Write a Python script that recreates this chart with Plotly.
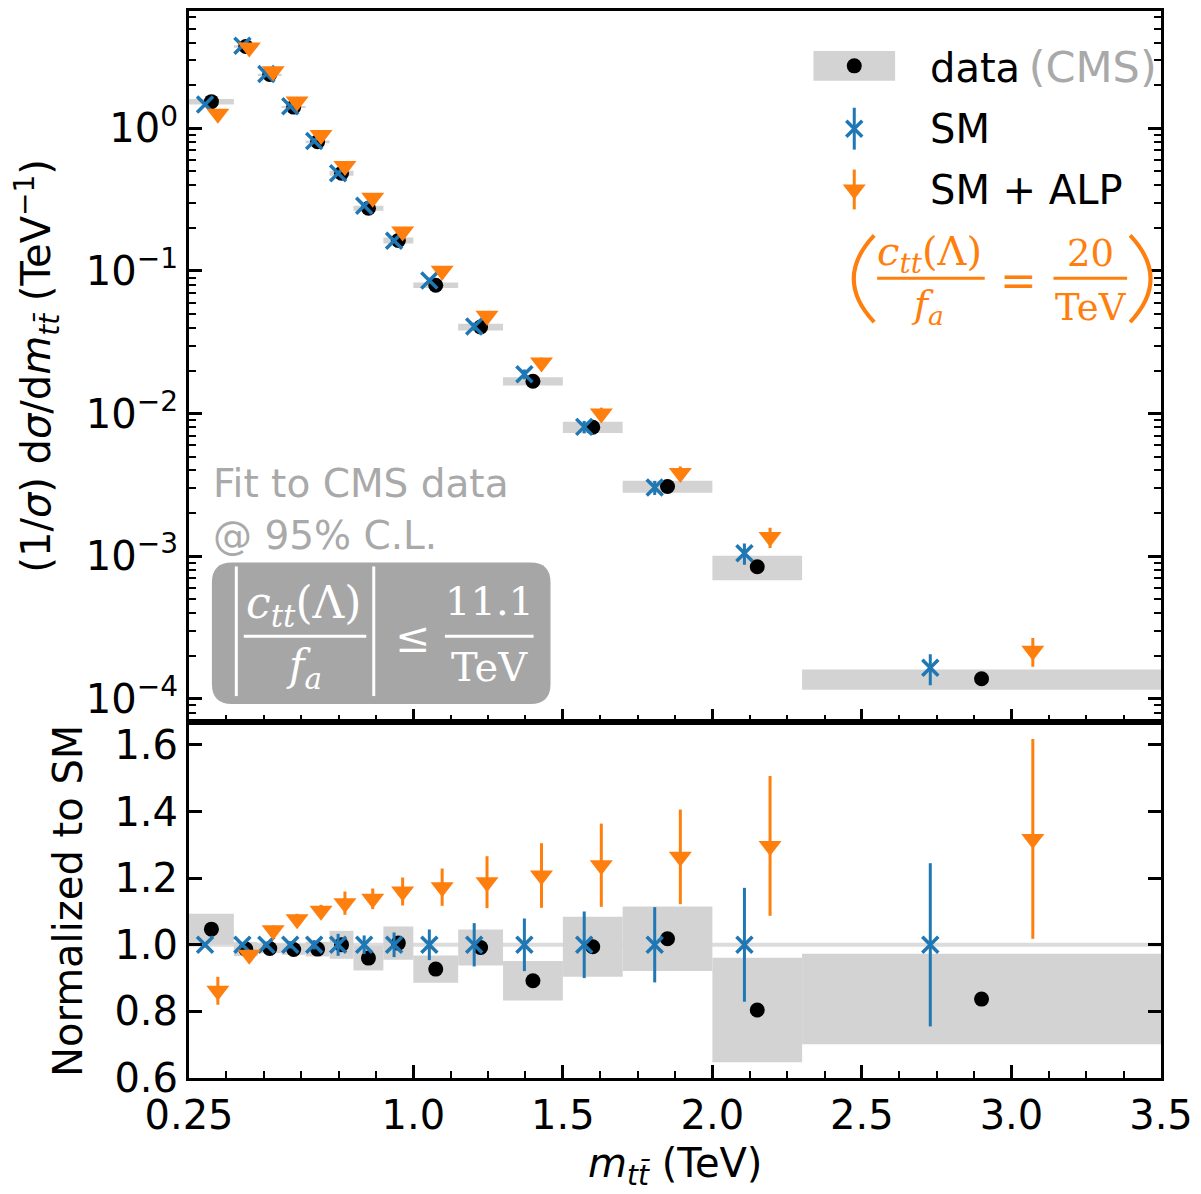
import numpy as np
import plotly.graph_objects as go

# ---------------- data ----------------
bin_edges = [0.25, 0.40, 0.48, 0.56, 0.64, 0.72, 0.80, 0.90, 1.00,
             1.15, 1.30, 1.50, 1.70, 2.00, 2.30, 3.50]          # TeV
sm_values = [1.47, 3.80, 2.41, 1.43, 0.816, 0.485, 0.287, 0.163, 0.0857,
             0.0408, 0.0189, 0.00807, 0.00303, 0.00105, 0.000165]  # TeV^-1
sm_ratio_err = [0.008, 0.008, 0.009, 0.011, 0.014, 0.033, 0.028, 0.037,
                0.046, 0.065, 0.079, 0.100, 0.113, 0.171, 0.245]
data_ratio = [1.047, 0.987, 0.989, 0.986, 0.987, 1.000, 0.960, 1.005,
              0.927, 0.992, 0.892, 0.994, 1.018, 0.804, 0.837]
data_ratio_err = [0.046, 0.021, 0.014, 0.016, 0.022, 0.042, 0.037, 0.050,
                  0.041, 0.054, 0.059, 0.090, 0.097, 0.157, 0.136]
alp_ratio = [0.862, 0.970, 1.044, 1.077, 1.102, 1.125, 1.138, 1.160,
             1.173, 1.188, 1.208, 1.239, 1.264, 1.297, 1.318]
alp_ratio_err = [0.042, 0.012, 0.014, 0.016, 0.018, 0.035, 0.031, 0.042,
                 0.056, 0.078, 0.097, 0.125, 0.142, 0.210, 0.300]

x_tick_vals = [0.25, 1.0, 1.5, 2.0, 2.5, 3.0, 3.5]
x_tick_text = ["0.25", "1.0", "1.5", "2.0", "2.5", "3.0", "3.5"]
y_top_tick_vals = [1e-4, 1e-3, 1e-2, 1e-1, 1.0]
y_top_tick_text = ["10<sup>−4</sup>", "10<sup>−3</sup>", "10<sup>−2</sup>",
                   "10<sup>−1</sup>", "10<sup>0</sup>"]
y_bot_tick_vals = [0.6, 0.8, 1.0, 1.2, 1.4, 1.6]
y_bot_tick_text = ["0.6", "0.8", "1.0", "1.2", "1.4", "1.6"]

# ---------------- derived quantities ----------------
edges = np.array(bin_edges)
lo, hi = edges[:-1], edges[1:]
centers = (lo + hi) / 2
widths = hi - lo
shift = widths / 7.0
x_sm = centers - shift
x_alp = centers + shift

sm = np.array(sm_values)
d_r = np.array(data_ratio)
d_re = np.array(data_ratio_err)
a_r = np.array(alp_ratio)
a_re = np.array(alp_ratio_err)
s_re = np.array(sm_ratio_err)

data_top = sm * d_r
data_err_top = sm * d_re
alp_top = sm * a_r
alp_err_top = sm * a_re
sm_err_top = sm * s_re
sm_norm = sm / sm

BLUE = "#1f77b4"
ORANGE = "#ff7f0e"
LGREY = "#d3d3d3"
FONT = "DejaVu Sans"
SERIF = "DejaVu Serif"

SM_MARKER = dict(symbol="x-thin", size=16, color=BLUE, line=dict(width=3.5, color=BLUE))
ALP_MARKER = dict(symbol="triangle-down", size=20, color=ORANGE)
DATA_MARKER = dict(symbol="circle", size=15, color="black")

# ---------------- geometry helpers (pixel -> paper) ----------------
L, R, T, B = 189, 36, 8, 116
W, H = 1201, 1194
PW, PH = W - L - R, H - T - B


def X(px):
    return (px - L) / PW


def Y(py):
    return (H - B - py) / PH


fig = go.Figure()

# ---------------- top panel ----------------
fig.add_trace(go.Bar(x=centers, y=2 * data_err_top, base=data_top - data_err_top,
                     width=widths, marker=dict(color=LGREY, line=dict(width=0)),
                     xaxis="x", yaxis="y", showlegend=False, hoverinfo="skip"))
fig.add_trace(go.Scatter(x=centers, y=data_top, mode="markers", marker=DATA_MARKER,
                         xaxis="x", yaxis="y", showlegend=False))
fig.add_trace(go.Scatter(x=x_sm, y=sm, mode="markers", marker=SM_MARKER,
                         error_y=dict(type="data", array=sm_err_top, color=BLUE,
                                      thickness=3, width=0),
                         xaxis="x", yaxis="y", showlegend=False))
fig.add_trace(go.Scatter(x=x_alp, y=alp_top, mode="markers", marker=ALP_MARKER,
                         error_y=dict(type="data", array=alp_err_top, color=ORANGE,
                                      thickness=3, width=0),
                         xaxis="x", yaxis="y", showlegend=False))

# ---------------- bottom panel ----------------
fig.add_trace(go.Bar(x=centers, y=2 * d_re, base=d_r - d_re, width=widths,
                     marker=dict(color=LGREY, line=dict(width=0)),
                     xaxis="x2", yaxis="y2", showlegend=False, hoverinfo="skip"))
fig.add_trace(go.Scatter(x=centers, y=data_top / sm, mode="markers", marker=DATA_MARKER,
                         xaxis="x2", yaxis="y2", showlegend=False))
fig.add_trace(go.Scatter(x=x_sm, y=sm_norm, mode="markers", marker=SM_MARKER,
                         error_y=dict(type="data", array=s_re, color=BLUE,
                                      thickness=3, width=0),
                         xaxis="x2", yaxis="y2", showlegend=False))
fig.add_trace(go.Scatter(x=x_alp, y=alp_top / sm, mode="markers", marker=ALP_MARKER,
                         error_y=dict(type="data", array=a_re, color=ORANGE,
                                      thickness=3, width=0),
                         xaxis="x2", yaxis="y2", showlegend=False))

# ---------------- hand-made legend glyphs (overlay axes in paper units) ----------------
fig.add_trace(go.Scatter(x=[X(857)], y=[Y(63)], mode="markers", marker=DATA_MARKER,
                         xaxis="x3", yaxis="y3", showlegend=False, cliponaxis=False))
fig.add_trace(go.Scatter(x=[X(857)], y=[Y(126)], mode="markers", marker=SM_MARKER,
                         error_y=dict(type="data", array=[21 / PH], color=BLUE,
                                      thickness=3, width=0),
                         xaxis="x3", yaxis="y3", showlegend=False, cliponaxis=False))
fig.add_trace(go.Scatter(x=[X(857)], y=[Y(187)], mode="markers", marker=ALP_MARKER,
                         error_y=dict(type="data", array=[20 / PH], color=ORANGE,
                                      thickness=3, width=0),
                         xaxis="x3", yaxis="y3", showlegend=False, cliponaxis=False))

# ---------------- axes ----------------
tickfont = dict(family=FONT, size=40, color="black")
common_x = dict(range=[0.25, 3.5], tickmode="array", tickvals=x_tick_vals,
                ticktext=x_tick_text, ticks="inside", ticklen=13, tickwidth=2.5,
                tickcolor="black", showline=True, linewidth=3, linecolor="black",
                mirror=True, showgrid=False, zeroline=False,
                minor=dict(ticks="inside", ticklen=7, tickwidth=2, tickcolor="black",
                           tick0=0.25, dtick=0.125, showgrid=False),
                tickfont=tickfont)

minor_log = [m * 10.0 ** e for e in range(-5, 1) for m in range(2, 10)]

layout = dict(
    width=W, height=H,
    margin=dict(l=L, r=R, t=T, b=B, pad=0),
    paper_bgcolor="white", plot_bgcolor="rgba(0,0,0,0)",
    showlegend=False, barmode="overlay",
    xaxis=dict(domain=[0, 1], anchor="y", showticklabels=False, **common_x),
    xaxis2=dict(domain=[0, 1], anchor="y2", showticklabels=True, **common_x),
    yaxis=dict(domain=[1 / 3, 1], anchor="x", type="log", range=[-4.165, 0.823],
               tickmode="array", tickvals=y_top_tick_vals, ticktext=y_top_tick_text,
               ticks="inside", ticklen=13, tickwidth=2.5, tickcolor="black",
               showline=True, linewidth=3, linecolor="black", mirror="allticks",
               showgrid=False, zeroline=False, tickfont=tickfont,
               minor=dict(ticks="inside", ticklen=7, tickwidth=2, tickcolor="black",
                          tickmode="array", tickvals=minor_log, showgrid=False)),
    yaxis2=dict(domain=[0, 1 / 3], anchor="x2", range=[0.6, 1.668],
                tickmode="array", tickvals=y_bot_tick_vals, ticktext=y_bot_tick_text,
                ticks="inside", ticklen=13, tickwidth=2.5, tickcolor="black",
                showline=True, linewidth=3, linecolor="black", mirror="allticks",
                showgrid=False, zeroline=False, tickfont=tickfont),
    xaxis3=dict(domain=[0, 1], anchor="y3", range=[0, 1], visible=False, fixedrange=True),
    yaxis3=dict(domain=[0, 1], anchor="x3", range=[0, 1], visible=False, fixedrange=True),
)
fig.update_layout(**layout)

shapes = []
# reference line at 1 in the ratio panel
shapes.append(dict(type="line", xref="x2", yref="y2", x0=0.25, x1=3.5, y0=1, y1=1,
                   line=dict(color="#dcdcdc", width=4), layer="below"))
# legend grey patch
shapes.append(dict(type="rect", xref="paper", yref="paper", x0=X(816), x1=X(898),
                   y0=Y(78), y1=Y(48), fillcolor=LGREY, line=dict(width=0), layer="below"))


def pt(px, py):
    return f"{X(px):.5f},{Y(py):.5f}"


def rrect(x0, y0, x1, y1, r):
    return ("M" + pt(x0 + r, y0) + " L" + pt(x1 - r, y0) +
            " Q" + pt(x1, y0) + " " + pt(x1, y0 + r) +
            " L" + pt(x1, y1 - r) + " Q" + pt(x1, y1) + " " + pt(x1 - r, y1) +
            " L" + pt(x0 + r, y1) + " Q" + pt(x0, y1) + " " + pt(x0, y1 - r) +
            " L" + pt(x0, y0 + r) + " Q" + pt(x0, y0) + " " + pt(x0 + r, y0) + " Z")


# bound box
shapes.append(dict(type="path", xref="paper", yref="paper",
                   path=rrect(212, 561, 552, 703, 20), fillcolor="#a6a6a6",
                   line=dict(width=0), layer="above"))
# |...| bars and fraction bars in the box
for xx in (236.5, 374.5):
    shapes.append(dict(type="line", xref="paper", yref="paper", x0=X(xx), x1=X(xx),
                       y0=Y(565), y1=Y(695), line=dict(color="white", width=3), layer="above"))
shapes.append(dict(type="line", xref="paper", yref="paper", x0=X(244), x1=X(367),
                   y0=Y(635), y1=Y(635), line=dict(color="white", width=3), layer="above"))
shapes.append(dict(type="line", xref="paper", yref="paper", x0=X(446), x1=X(535),
                   y0=Y(635), y1=Y(635), line=dict(color="white", width=3), layer="above"))
# orange formula in legend: fraction bars and parentheses
shapes.append(dict(type="line", xref="paper", yref="paper", x0=X(880), x1=X(988),
                   y0=Y(276), y1=Y(276), line=dict(color=ORANGE, width=3), layer="above"))
shapes.append(dict(type="line", xref="paper", yref="paper", x0=X(1057), x1=X(1131),
                   y0=Y(276), y1=Y(276), line=dict(color=ORANGE, width=3), layer="above"))
shapes.append(dict(type="path", xref="paper", yref="paper",
                   path="M" + pt(877, 233) + " Q" + pt(836, 276.5) + " " + pt(877, 320),
                   line=dict(color=ORANGE, width=4), layer="above"))
shapes.append(dict(type="path", xref="paper", yref="paper",
                   path="M" + pt(1134, 233) + " Q" + pt(1175, 276.5) + " " + pt(1134, 320),
                   line=dict(color=ORANGE, width=4), layer="above"))
fig.update_layout(shapes=shapes)

ann = []


def add_text(text, px, py, size=40, color="black", family=FONT, xanchor="center",
             yanchor="middle", angle=0):
    ann.append(dict(text=text, x=X(px), y=Y(py), xref="paper", yref="paper",
                    showarrow=False, xanchor=xanchor, yanchor=yanchor, textangle=angle,
                    font=dict(family=family, size=size, color=color)))


# axis titles
add_text("(1/<i>σ</i>) d<i>σ</i>/d<i>m</i><sub><i>tt\u0304</i></sub> (TeV<sup>−1</sup>)",
         36, 364, angle=-90)
add_text("Normalized to SM", 68, 900, angle=-90)
add_text("<i>m</i><sub><i>tt\u0304</i></sub> (TeV)", 677, 1166)

# legend texts
add_text("data<span style='color:#a9a9a9;font-size:43px'>\u2009(CMS)</span>", 931, 64,
         xanchor="left")
add_text("SM", 931, 126, xanchor="left")
add_text("SM + ALP", 931, 188, xanchor="left")

# orange formula
add_text("<i>c</i><sub><i>tt</i></sub>(Λ)", 933, 252, size=40, color=ORANGE, family=SERIF)
add_text("<i>f</i><sub><i>a</i></sub>", 931, 304, size=38, color=ORANGE, family=SERIF)
add_text("=", 1022, 278, size=44, color=ORANGE, family=SERIF)
add_text("20", 1094, 251, size=37, color=ORANGE, family=SERIF)
add_text("TeV", 1095, 305, size=37, color=ORANGE, family=SERIF)

# fit texts
add_text("Fit to CMS data", 211, 482, size=39, color="#a9a9a9", xanchor="left")
add_text("@ 95% C.L.", 211, 534, size=39, color="#a9a9a9", xanchor="left")

# bound formula (white)
add_text("<i>c</i><sub><i>tt</i></sub>(Λ)", 304, 604, size=44, color="white", family=SERIF)
add_text("<i>f</i><sub><i>a</i></sub>", 304, 667, size=42, color="white", family=SERIF)
add_text("≤", 413, 636, size=42, color="white", family=SERIF)
add_text("11.1", 491, 600, size=40, color="white", family=SERIF)
add_text("TeV", 491, 666, size=40, color="white", family=SERIF)

fig.update_layout(annotations=ann)

fig.write_html("out.html")
